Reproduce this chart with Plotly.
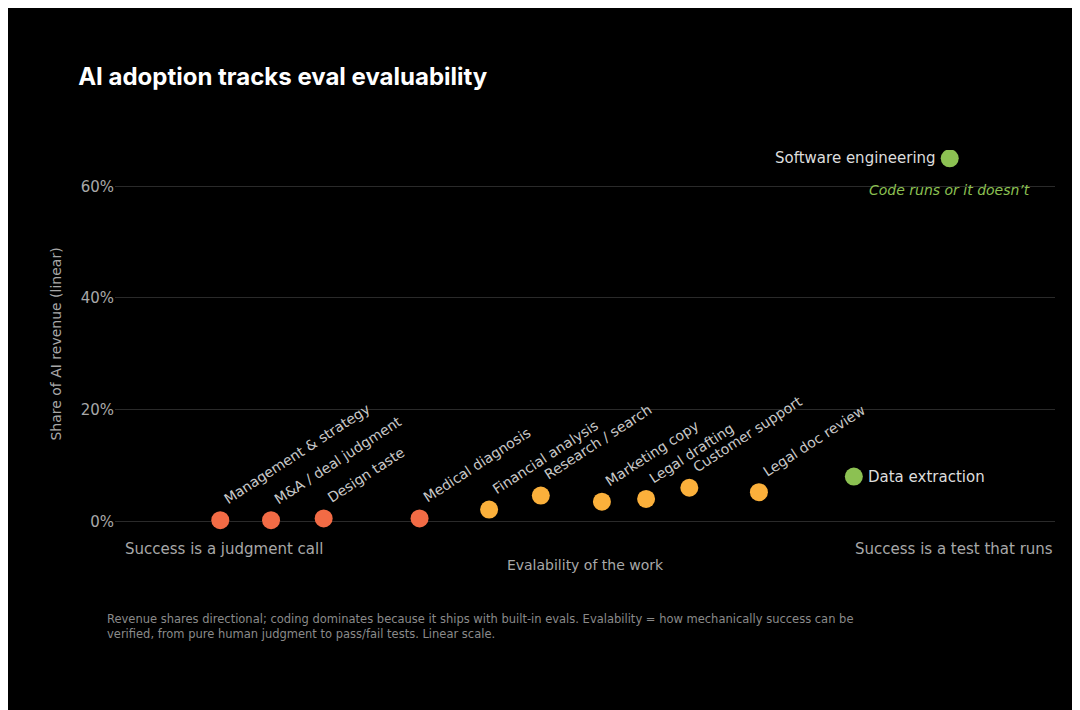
import plotly.graph_objects as go

labels = ["Management & strategy", "M&A / deal judgment", "Design taste", "Medical diagnosis",
          "Financial analysis", "Research / search", "Marketing copy", "Legal drafting",
          "Customer support", "Legal doc review", "Data extraction", "Software engineering"]
evalability = [0.112, 0.166, 0.222, 0.324, 0.398, 0.453, 0.518, 0.565, 0.611, 0.685, 0.786, 0.888]
share = [0.2, 0.2, 0.5, 0.5, 2.1, 4.6, 3.5, 4.0, 6.0, 5.2, 8.0, 65.0]
group = ["judgment"] * 4 + ["mixed"] * 6 + ["test"] * 2
colors = {"judgment": "#F26B45", "mixed": "#FBB03B", "test": "#8CC152"}
y_ticks = [0, 20, 40, 60]

fig = go.Figure()
fig.add_trace(go.Scatter(x=evalability, y=share, mode="markers",
                         marker=dict(size=18, color=[colors[g] for g in group], line=dict(width=0)),
                         hoverinfo="text", text=labels, showlegend=False))

font = "DejaVu Sans, sans-serif"
for i, lab in enumerate(labels):
    if group[i] == "test":
        fig.add_annotation(x=evalability[i], y=share[i], text=lab, showarrow=False,
                           xanchor="right" if i == 11 else "left", xshift=-12 if i == 11 else 12,
                           font=dict(size=15, color="#DDDDDD", family=font))
    else:
        fig.add_annotation(x=evalability[i], y=share[i], text=lab, showarrow=False, textangle=-33,
                           xanchor="left", yanchor="bottom", xshift=-2, yshift=10,
                           font=dict(size=14, color="#C8C8C8", family=font))

fig.add_annotation(x=evalability[11], y=share[11], text="<i>Code runs or it doesn’t</i>", showarrow=False,
                   xanchor="center", yshift=-32, xshift=0,
                   font=dict(size=14, color="#8CC152", family=font))
fig.add_annotation(x=0.009, y=0, yshift=-28, text="Success is a judgment call", showarrow=False,
                   xanchor="left", font=dict(size=15, color="#A8A8A8", family=font))
fig.add_annotation(x=1.0, y=0, yshift=-28, text="Success is a test that runs", showarrow=False,
                   xanchor="right", font=dict(size=15, color="#A8A8A8", family=font))
fig.add_annotation(xref="paper", yref="paper", x=-0.011, y=-0.186, xanchor="left", yanchor="top", align="left",
                   text="Revenue shares directional; coding dominates because it ships with built-in evals. Evalability = how mechanically success can be<br>verified, from pure human judgment to pass/fail tests. Linear scale.",
                   showarrow=False, font=dict(size=11.5, color="#8A8A8A", family=font))

fig.update_layout(
    width=1080, height=710, paper_bgcolor="#000000", plot_bgcolor="#000000",
    margin=dict(l=107, r=33, t=142, b=180),
    title=dict(text="<b>AI adoption tracks eval evaluability</b>", x=0.065, y=0.915, xanchor="left",
               font=dict(size=24, color="#FFFFFF", family="Inter, sans-serif")),
    xaxis=dict(range=[0, 1], showgrid=False, zeroline=False, showticklabels=False,
               title=dict(text="Evalability of the work", font=dict(size=14, color="#A8A8A8", family=font), standoff=22)),
    yaxis=dict(range=[-3, 66.5], tickvals=y_ticks, ticktext=[f"{v}%" for v in y_ticks],
               gridcolor="#2A2A2A", zeroline=False, tickfont=dict(size=15, color="#A8A8A8", family=font),
               title=dict(text="Share of AI revenue (linear)", font=dict(size=14, color="#A8A8A8", family=font))),
    font=dict(family=font),
)
fig.write_html("out.html")
